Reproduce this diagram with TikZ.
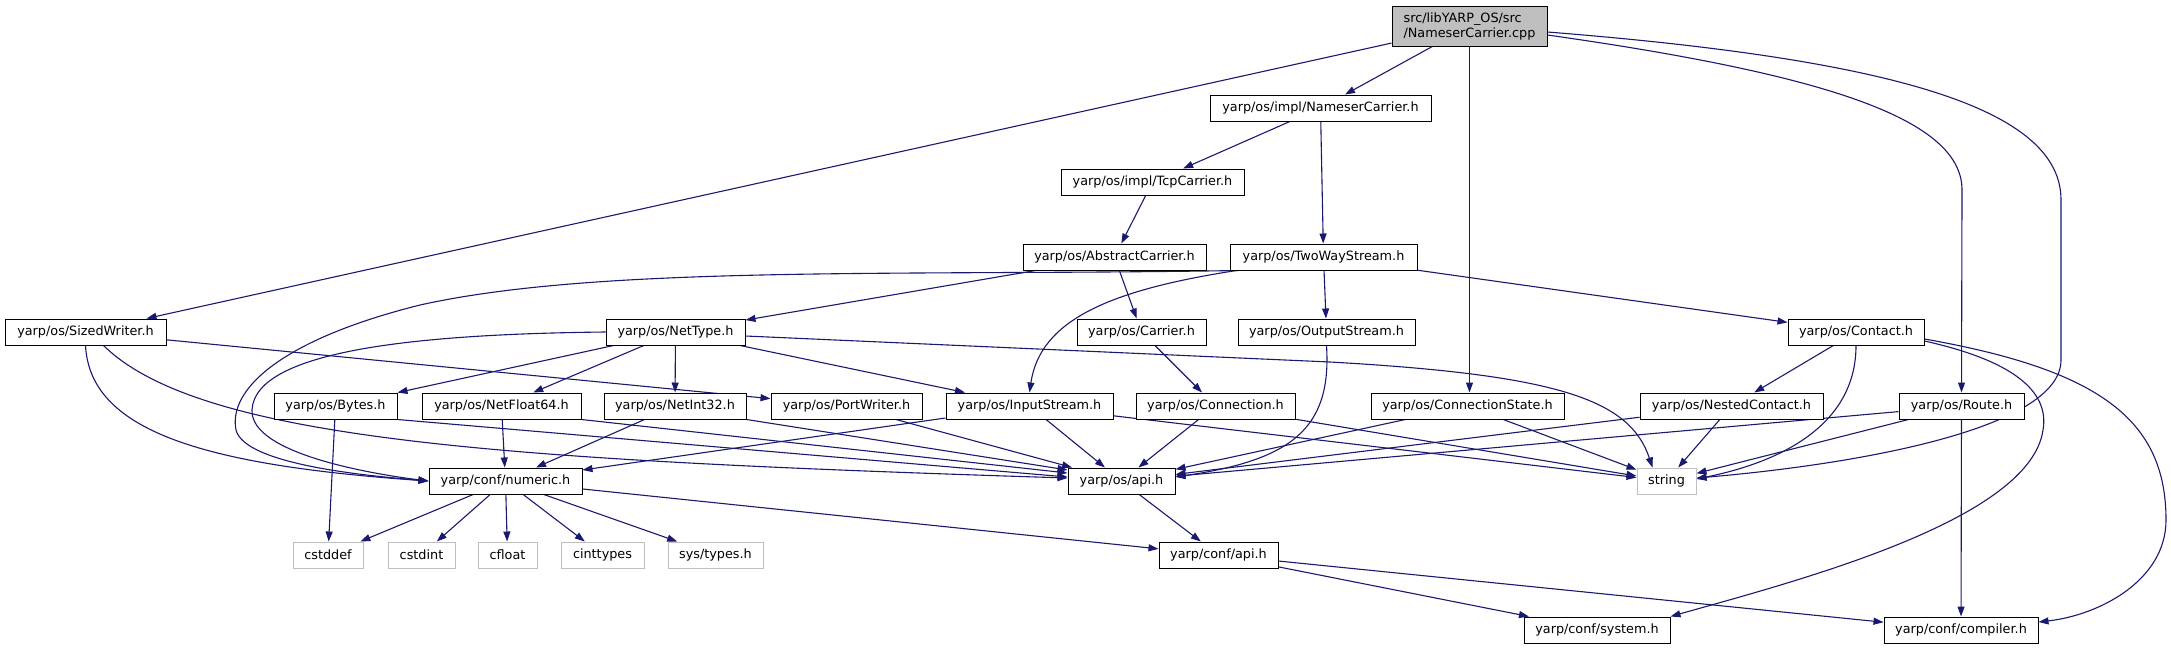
\documentclass[tikz,border=0pt]{standalone}
\usepackage{fontspec}
\newfontfamily\dvs{DejaVu Sans}
\usetikzlibrary{arrows.meta}
\definecolor{edgecol}{HTML}{191970}
\definecolor{rootfill}{HTML}{BFBFBF}
\definecolor{extcol}{HTML}{BFBFBF}
\pgfdeclarelayer{bg}
\pgfsetlayers{bg,main}
\tikzset{
  box/.style={draw=black, fill=white, line width=1pt, minimum height=26pt, inner sep=0pt, font={\dvs\fontsize{12.8}{15}\selectfont}},
  extbox/.style={box, draw=extcol},
  rootbox/.style={box, fill=rootfill, minimum height=40pt, align=left},
  e/.style={draw=edgecol, line width=1.1pt, -{Triangle[length=10pt,width=7pt]}}
}
\begin{document}
\begin{tikzpicture}[x=1pt,y=-1pt]
\useasboundingbox (0,0) rectangle (2171,649);
% nodes
\node[rootbox, minimum width=155pt] (root) at (1469.5,26) {src/libYARP\_OS/src\\/NameserCarrier.cpp};
\node[box, minimum width=221pt] (nc) at (1320.5,108) {yarp/os/impl/NameserCarrier.h};
\node[box, minimum width=183pt] (tcp) at (1152.5,182) {yarp/os/impl/TcpCarrier.h};
\node[box, minimum width=183pt] (ac) at (1114.5,257) {yarp/os/AbstractCarrier.h};
\node[box, minimum width=187pt] (tw) at (1323.5,257) {yarp/os/TwoWayStream.h};
\node[box, minimum width=161pt] (sw) at (85.5,332) {yarp/os/SizedWriter.h};
\node[box, minimum width=139pt] (nt) at (675.5,332) {yarp/os/NetType.h};
\node[box, minimum width=129pt] (car) at (1141.5,332) {yarp/os/Carrier.h};
\node[box, minimum width=177pt] (os) at (1326.5,332) {yarp/os/OutputStream.h};
\node[box, minimum width=136pt] (con) at (1856,332) {yarp/os/Contact.h};
\node[box, minimum width=123pt] (by) at (335.5,406) {yarp/os/Bytes.h};
\node[box, minimum width=159pt] (nf) at (501.5,406) {yarp/os/NetFloat64.h};
\node[box, minimum width=142pt] (ni) at (675,406) {yarp/os/NetInt32.h};
\node[box, minimum width=151pt] (pw) at (846.5,406) {yarp/os/PortWriter.h};
\node[box, minimum width=167pt] (is) at (1029.5,406) {yarp/os/InputStream.h};
\node[box, minimum width=159pt] (cn) at (1215.5,406) {yarp/os/Connection.h};
\node[box, minimum width=193pt] (cs) at (1467.5,406) {yarp/os/ConnectionState.h};
\node[box, minimum width=183pt] (nest) at (1731.5,406) {yarp/os/NestedContact.h};
\node[box, minimum width=125pt] (rt) at (1961.5,406) {yarp/os/Route.h};
\node[box, minimum width=153pt] (num) at (505.5,481) {yarp/conf/numeric.h};
\node[box, minimum width=107pt] (api) at (1121.5,481) {yarp/os/api.h};
\node[extbox, minimum width=59pt] (str) at (1666.5,481) {string};
\node[extbox, minimum width=70pt] (cstddef) at (328,555) {cstddef};
\node[extbox, minimum width=67pt] (cstdint) at (421.5,555) {cstdint};
\node[extbox, minimum width=59pt] (cfloat) at (507.5,555) {cfloat};
\node[extbox, minimum width=83pt] (cinttypes) at (602.5,555) {cinttypes};
\node[extbox, minimum width=95pt] (systypes) at (715.5,555) {sys/types.h};
\node[box, minimum width=119pt] (capi) at (1218.5,555) {yarp/conf/api.h};
\node[box, minimum width=146pt] (sys) at (1597,630) {yarp/conf/system.h};
\node[box, minimum width=154pt] (comp) at (1961,630) {yarp/conf/compiler.h};
% edges
\begin{pgfonlayer}{bg}
\draw[e] (root) -- (nc);
\draw[e] (root) -- (sw);
\draw[e] (root.south) -- (root.south |- cs.north);
\draw[e] ([yshift=-9pt]root.east) .. controls (1830,75) and (1962,120) .. (1962,190) -- (rt.north);
\draw[e] ([yshift=-6pt]root.east) .. controls (1900,60) and (2061,110) .. (2061,200) -- (2061,360) .. controls (2061,430) and (1850,465) .. ([yshift=3pt]str.east);
\draw[e] (nc) -- (tcp);
\draw[e] (nc) -- (tw);
\draw[e] (tcp) -- (ac);
\draw[e] (ac) -- (nt);
\draw[e] (ac) -- (car);
\draw[e] ([xshift=9pt]tw.south west) .. controls (900,276) and (600,265) .. (420,305) .. controls (280,340) and (228,390) .. (236,430) .. controls (245,465) and (370,476) .. (num.west);
\draw[e] ([xshift=7pt]tw.south west) .. controls (1110,290) and (1040,320) .. (is.north);
\draw[e] (tw) -- (os);
\draw[e] (tw) -- (con);
\draw[e] (sw.south) .. controls (90,430) and (200,465) .. (num.west);
\draw[e] ([xshift=18pt]sw.south) .. controls (200,440) and (500,460) .. ([yshift=3pt]api.west);
\draw[e] (sw) -- (pw);
\draw[e] (nt.west) .. controls (420,334) and (255,350) .. (252,410) .. controls (250,455) and (380,475) .. (num.west);
\draw[e] (nt) -- (by);
\draw[e] (nt) -- (nf);
\draw[e] (nt) -- (ni);
\draw[e] (nt) -- (is);
\draw[e] ([yshift=-4pt]nt.east) -- (1330,362) .. controls (1560,375) and (1630,400) .. ([xshift=-14pt]str.north);
\draw[e] (car) -- (cn);
\draw[e] (os.south) .. controls (1332,430) and (1290,460) .. ([yshift=4pt]api.east);
\draw[e] (con) -- (nest);
\draw[e] (con.south) .. controls (1856,420) and (1790,460) .. ([yshift=2pt]str.east);
\draw[e] ([yshift=-9pt]con.east) .. controls (2010,360) and (2050,390) .. (2043,430) .. controls (2030,520) and (1800,580) .. (sys.north east);
\draw[e] ([yshift=-7pt]con.east) .. controls (2100,370) and (2166,420) .. (2166,520) .. controls (2166,580) and (2100,615) .. ([yshift=8pt]comp.east);
\draw[e] (by) -- (cstddef);
\draw[e] (by.south east) -- ([yshift=4pt]api.west);
\draw[e] (nf) -- (num);
\draw[e] (nf.south east) -- ([yshift=8pt]api.west);
\draw[e] (ni) -- (num);
\draw[e] (ni.south east) -- ([yshift=11pt]api.west);
\draw[e] (pw) -- (api);
\draw[e] (is) -- (num);
\draw[e] (is) -- (api);
\draw[e] (is) -- (str);
\draw[e] (cn) -- (api);
\draw[e] (cn) -- (str);
\draw[e] (cs) -- (api);
\draw[e] (cs) -- (str);
\draw[e] (nest) -- (api);
\draw[e] (nest) -- (str);
\draw[e] (rt) -- (api);
\draw[e] (rt) -- (str);
\draw[e] (rt) -- (comp);
\draw[e] (num) -- (cstddef);
\draw[e] (num) -- (cstdint);
\draw[e] (num) -- (cfloat);
\draw[e] (num) -- (cinttypes);
\draw[e] (num) -- (systypes);
\draw[e] (num) -- (capi);
\draw[e] (api) -- (capi);
\draw[e] (capi) -- (sys);
\draw[e] (capi) -- (comp);
\end{pgfonlayer}
\end{tikzpicture}
\end{document}
